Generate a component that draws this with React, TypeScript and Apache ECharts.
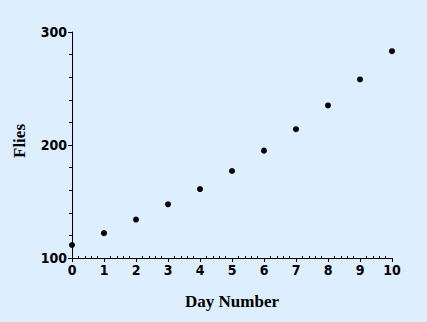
import React, { useEffect, useRef } from "react";
import * as echarts from "echarts";

const days = [0, 1, 2, 3, 4, 5, 6, 7, 8, 9, 10];
const flies = [111.5, 122, 134, 147.5, 161, 177, 195, 214, 235, 258, 283];
const xTitle = "Day Number";
const yTitle = "Flies";

const labelFont = "'Liberation Sans Narrow', 'DejaVu Sans Condensed', sans-serif";
const titleFont = "'Liberation Serif', 'DejaVu Serif', serif";

export default function App() {
  const ref = useRef<HTMLDivElement>(null);
  useEffect(() => {
    if (!ref.current) return;
    const chart = echarts.init(ref.current, null, { renderer: "svg" });
    const data = days.map((d, i) => [d, flies[i]]);
    chart.setOption({
      animation: false,
      backgroundColor: "#DDEEFF",
      grid: { left: 72, top: 32, right: 35, bottom: 64 },
      xAxis: [
        {
          type: "value",
          min: 0,
          max: 10,
          interval: 1,
          name: xTitle,
          nameLocation: "middle",
          nameGap: 35,
          nameTextStyle: { fontFamily: titleFont, fontWeight: "bold", fontSize: 17, color: "#000" },
          axisLine: { show: true, onZero: false, lineStyle: { color: "#000", width: 1 } },
          axisTick: { show: true, length: 4, lineStyle: { color: "#000" } },
          minorTick: { show: false },
          splitLine: { show: false },
          axisLabel: { fontFamily: labelFont, fontWeight: "bold", fontSize: 14, color: "#000", margin: 5 },
        },
        {
          type: "value",
          min: 0,
          max: 10,
          interval: 1,
          position: "bottom",
          axisLine: { show: false, onZero: false },
          axisTick: { show: false, inside: true },
          minorTick: { show: true, splitNumber: 5, length: 2, lineStyle: { color: "#000" } },
          splitLine: { show: false },
          axisLabel: { show: false },
        },
      ],
      yAxis: {
        type: "value",
        min: 100,
        max: 300,
        interval: 100,
        name: yTitle,
        nameLocation: "middle",
        nameGap: 44,
        nameTextStyle: { fontFamily: titleFont, fontWeight: "bold", fontSize: 17, color: "#000", padding: [0, 0, 0, 8] },
        axisLine: { show: true, onZero: false, lineStyle: { color: "#000", width: 1 } },
        axisTick: { show: true, length: 4, lineStyle: { color: "#000" } },
        minorTick: { show: true, splitNumber: 5, length: 3, lineStyle: { color: "#000" } },
        splitLine: { show: false },
        axisLabel: { fontFamily: labelFont, fontWeight: "bold", fontSize: 14, color: "#000", margin: 5 },
      },
      series: [
        {
          type: "scatter",
          xAxisIndex: 0,
          data,
          symbol: "circle",
          symbolSize: 6,
          itemStyle: { color: "#000", opacity: 1 },
        },
      ],
    });
    return () => chart.dispose();
  }, []);
  return (
    <div
      ref={ref}
      style={{ position: "fixed", left: 0, top: 0, width: 427, height: 322 }}
    />
  );
}
